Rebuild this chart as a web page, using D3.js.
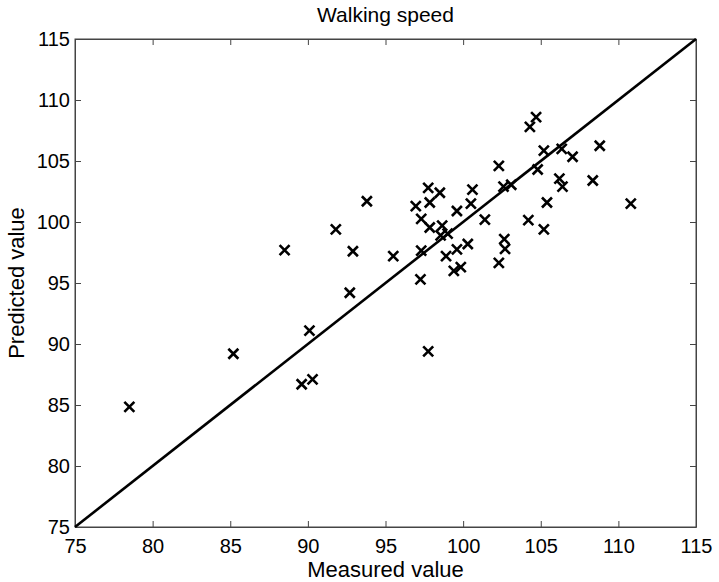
<!DOCTYPE html>
<html>
<head>
<meta charset="utf-8">
<script src="https://cdn.jsdelivr.net/npm/d3@7"></script>
<style>
  html, body { margin: 0; padding: 0; background: #fff; }
  svg { display: block; font-family: "Liberation Sans", Arial, Helvetica, sans-serif; }
</style>
</head>
<body>
<svg id="chart" width="719" height="582"></svg>
<script>
const title = "Walking speed";
const xLabel = "Measured value";
const yLabel = "Predicted value";
const xTicks = [75, 80, 85, 90, 95, 100, 105, 110, 115];
const yTicks = [75, 80, 85, 90, 95, 100, 105, 110, 115];
const measured = [
  78.5, 85.2, 88.5, 89.6, 90.1, 90.3, 91.8, 92.7, 92.9, 93.8,
  95.5, 96.95, 97.25, 97.3, 97.3, 97.75, 97.75, 97.85, 97.85, 98.5,
  98.65, 98.55, 99.0, 98.9, 99.4, 99.6, 99.6, 99.85, 100.3, 100.5,
  100.6, 101.4, 102.3, 102.3, 102.6, 102.65, 102.7, 103.1, 104.2, 104.3,
  104.7, 104.8, 105.2, 105.2, 105.4, 106.2, 106.35, 106.4, 107.05, 108.35,
  108.8, 110.8
];
const predicted = [
  84.85, 89.2, 97.7, 86.7, 91.1, 87.1, 99.4, 94.2, 97.6, 101.7,
  97.2, 101.3, 95.3, 97.65, 100.25, 89.4, 102.8, 101.6, 99.55, 102.4,
  99.7, 98.9, 99.05, 97.2, 96.0, 100.9, 97.75, 96.3, 98.2, 101.5,
  102.65, 100.2, 104.6, 96.65, 102.9, 98.6, 97.8, 103.05, 100.15, 107.8,
  108.6, 104.3, 105.85, 99.4, 101.6, 103.55, 106.0, 102.9, 105.35, 103.4,
  106.25, 101.5
];
const identity = [75, 115];

const svg = d3.select("#chart");
const m = { left: 75, right: 696, top: 39, bottom: 527 };
const x = d3.scaleLinear().domain([75, 115]).range([m.left, m.right]);
const y = d3.scaleLinear().domain([75, 115]).range([m.bottom, m.top]);
const tickLen = 6;

// frame
svg.append("rect")
  .attr("x", m.left).attr("y", m.top)
  .attr("width", m.right - m.left).attr("height", m.bottom - m.top)
  .attr("fill", "none").attr("stroke", "#444").attr("stroke-width", 1);

// axes with inward ticks
const axB = svg.append("g").attr("transform", `translate(0,${m.bottom})`)
  .call(d3.axisBottom(x).tickValues(xTicks).tickSizeInner(-tickLen).tickSizeOuter(0).tickPadding(12));
const axT = svg.append("g").attr("transform", `translate(0,${m.top})`)
  .call(d3.axisTop(x).tickValues(xTicks).tickSizeInner(-tickLen).tickSizeOuter(0).tickFormat(""));
const axL = svg.append("g").attr("transform", `translate(${m.left},0)`)
  .call(d3.axisLeft(y).tickValues(yTicks).tickSizeInner(-tickLen).tickSizeOuter(0).tickPadding(5));
const axR = svg.append("g").attr("transform", `translate(${m.right},0)`)
  .call(d3.axisRight(y).tickValues(yTicks).tickSizeInner(-tickLen).tickSizeOuter(0).tickFormat(""));

[axB, axT, axL, axR].forEach(a => {
  a.select(".domain").attr("stroke", "#444");
  a.selectAll(".tick line").attr("stroke", "#444");
  a.selectAll("text").attr("fill", "#000").attr("font-size", 20)
    .attr("font-family", "'Liberation Sans', Arial, sans-serif");
});

// identity line
svg.append("line")
  .attr("x1", x(identity[0])).attr("y1", y(identity[0]))
  .attr("x2", x(identity[1])).attr("y2", y(identity[1]))
  .attr("stroke", "#000").attr("stroke-width", 2.6);

// x markers
const pts = measured.map((v, i) => [v, predicted[i]]);
const s = 5;
const g = svg.append("g");
pts.forEach(([mv, pv]) => {
  const cx = x(mv), cy = y(pv);
  g.append("path")
    .attr("d", `M${cx - s},${cy - s}L${cx + s},${cy + s}M${cx - s},${cy + s}L${cx + s},${cy - s}`)
    .attr("stroke", "#000").attr("stroke-width", 2.6).attr("fill", "none");
});

// labels
svg.append("text").attr("x", (m.left + m.right) / 2).attr("y", 22)
  .attr("text-anchor", "middle").attr("font-size", 21).text(title);
svg.append("text").attr("x", (m.left + m.right) / 2).attr("y", 577)
  .attr("text-anchor", "middle").attr("font-size", 22).text(xLabel);
svg.append("text")
  .attr("transform", `translate(24,${(m.top + m.bottom) / 2}) rotate(-90)`)
  .attr("text-anchor", "middle").attr("font-size", 22).text(yLabel);
</script>
</body>
</html>
